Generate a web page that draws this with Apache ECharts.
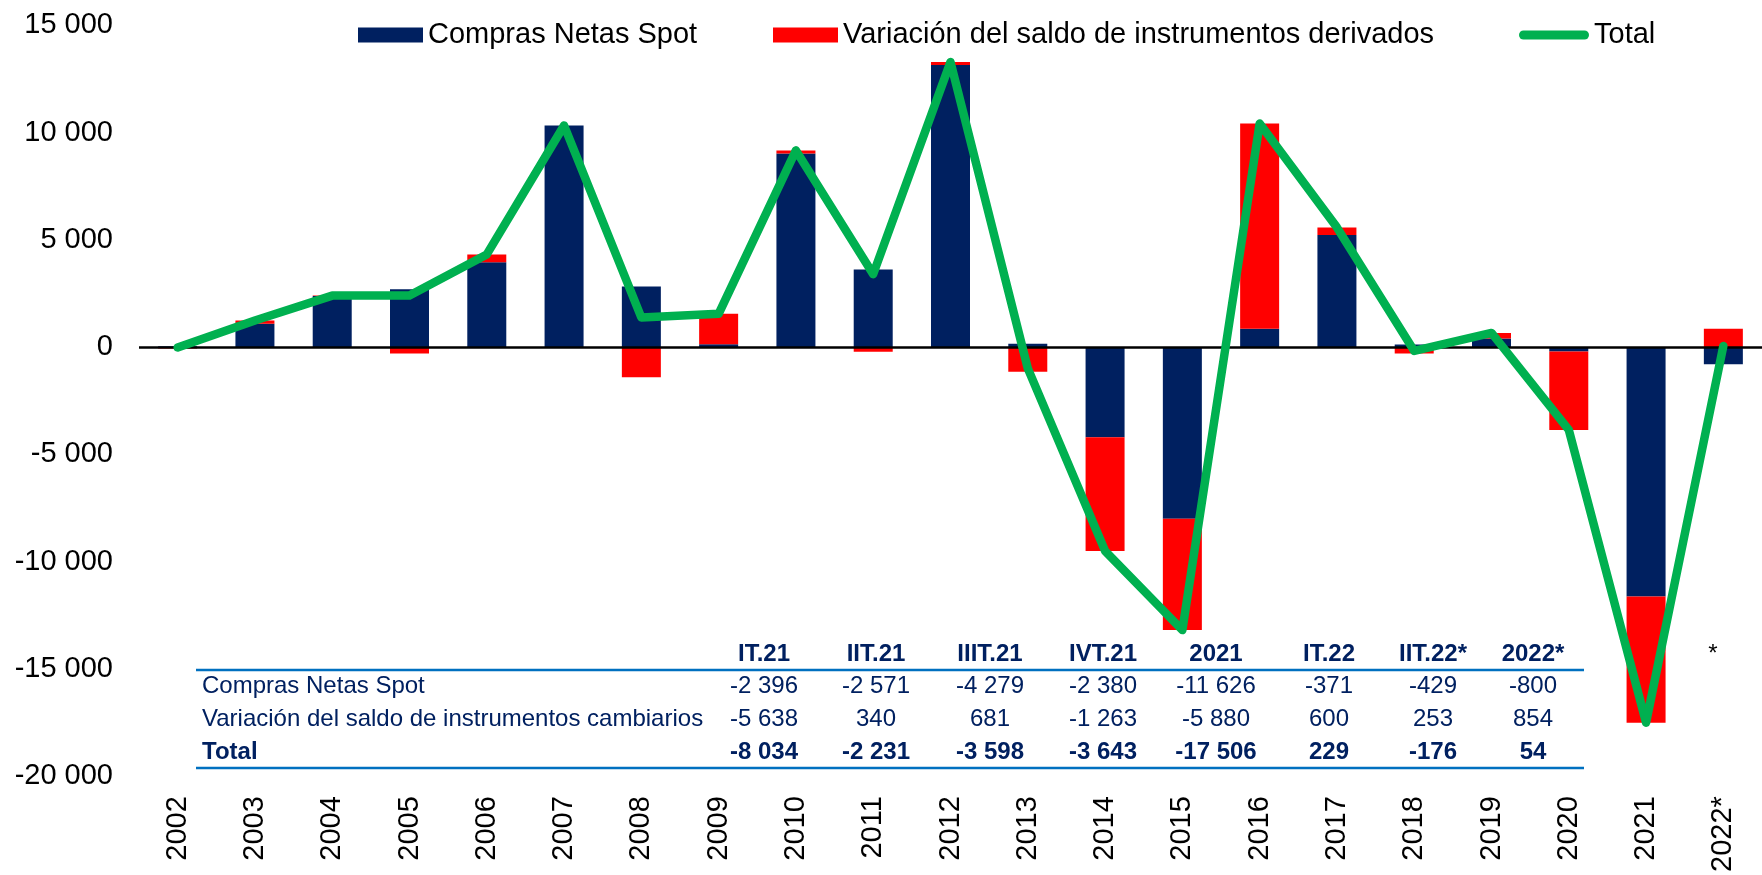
<!DOCTYPE html>
<html>
<head>
<meta charset="utf-8">
<title>Compras netas y variación de derivados</title>
<script src="https://cdn.jsdelivr.net/npm/echarts@6/dist/echarts.min.js"></script>
<style>
  html, body { margin: 0; padding: 0; background: #ffffff; }
  #chart { width: 1762px; height: 875px; }
</style>
</head>
<body>
<div id="chart"></div>
<script>
// Annual series (millones de US$)
const years = ['2002', '2003', '2004', '2005', '2006', '2007', '2008', '2009', '2010', '2011',
  '2012', '2013', '2014', '2015', '2016', '2017', '2018', '2019', '2020', '2021', '2022*'];
const spotPurchases = [40, 1090, 2380, 2700, 3950, 10330, 2830, 130, 9030, 3620,
  13150, 160, -4200, -8000, 860, 5230, 120, 400, -200, -11626, -800];
const derivativesChange = [-60, 150, 20, -300, 370, 0, -1400, 1420, 140, -220,
  140, -1150, -5300, -5190, 9560, 350, -300, 260, -3660, -5880, 854];
const totals = [-20, 1240, 2400, 2400, 4320, 10330, 1380, 1550, 9170, 3400,
  13290, -990, -9500, -13190, 10420, 5580, -180, 660, -3860, -17506, 54];

// Quarterly summary table
const tableColumns = ['IT.21', 'IIT.21', 'IIIT.21', 'IVT.21', '2021', 'IT.22', 'IIT.22*', '2022*'];
const tableRowLabels = ['Compras Netas Spot', 'Variación del saldo de instrumentos cambiarios', 'Total'];
const tableSpot = [-2396, -2571, -4279, -2380, -11626, -371, -429, -800];
const tableDeriv = [-5638, 340, 681, -1263, -5880, 600, 253, 854];
const tableTotal = [-8034, -2231, -3598, -3643, -17506, 229, -176, 54];

const seriesNames = ['Compras Netas Spot', 'Variación del saldo de instrumentos derivados', 'Total'];

const FONT = '"Liberation Sans", Arial, sans-serif';
const NAVY = '#002060';
const RED = '#FF0000';
const GREEN = '#00B050';
const RULE = '#0070C0';

function fmt(v) {
  const s = String(Math.round(Math.abs(v))).replace(/\B(?=(\d{3})+(?!\d))/g, ' ');
  return (v < 0 ? '-' : '') + s;
}

// Table layout
const colX = [764, 876, 990, 1103, 1216, 1329, 1433, 1533];
const rowY = [686, 719, 752];
const headerY = 654;
const labelX = 202;
const ruleX1 = 196, ruleX2 = 1584;

const graphics = [];
graphics.push({ type: 'line', silent: true, shape: { x1: ruleX1, y1: 670, x2: ruleX2, y2: 670 },
  style: { stroke: RULE, lineWidth: 2.5 } });
graphics.push({ type: 'line', silent: true, shape: { x1: ruleX1, y1: 768, x2: ruleX2, y2: 768 },
  style: { stroke: RULE, lineWidth: 2.5 } });

function addText(text, x, y, align, bold, color) {
  graphics.push({
    type: 'text', silent: true,
    style: {
      text: text, x: x, y: y,
      align: align, verticalAlign: 'middle',
      textAlign: align, textVerticalAlign: 'middle',
      font: (bold ? 'bold ' : '') + '24px ' + FONT,
      fill: color
    }
  });
}

tableColumns.forEach((c, i) => addText(c, colX[i], headerY, 'center', true, NAVY));
tableRowLabels.forEach((l, r) => addText(l, labelX, rowY[r], 'left', r === 2, NAVY));
[tableSpot, tableDeriv, tableTotal].forEach((row, r) => {
  row.forEach((v, i) => addText(fmt(v), colX[i], rowY[r], 'center', r === 2, NAVY));
});
addText('*', 1713, headerY, 'center', false, '#000000');

const chart = echarts.init(document.getElementById('chart'), null, { renderer: 'canvas' });

const legendText = { fontSize: 29, fontFamily: FONT, color: '#000000', lineHeight: 30 };

chart.setOption({
  animation: false,
  backgroundColor: '#ffffff',
  textStyle: { fontFamily: FONT },
  grid: { left: 139, top: 25.3, width: 1636, height: 754.2, containLabel: false },
  legend: [
    { left: 358, top: 20, padding: 0, itemWidth: 65, itemHeight: 15, icon: 'rect',
      data: [seriesNames[0]], textStyle: legendText, selectedMode: false },
    { left: 773, top: 20, padding: 0, itemWidth: 65, itemHeight: 15, icon: 'rect',
      data: [seriesNames[1]], textStyle: legendText, selectedMode: false },
    { left: 1519, top: 20, padding: 0, itemWidth: 70, itemHeight: 9,
      data: [{ name: seriesNames[2],
        icon: 'path://M4.5,0 L65.5,0 A4.5,4.5 0 0 1 65.5,9 L4.5,9 A4.5,4.5 0 0 1 4.5,0 Z',
        itemStyle: { color: GREEN, borderWidth: 0 } }],
      textStyle: legendText, selectedMode: false }
  ],
  xAxis: {
    type: 'category',
    data: years,
    boundaryGap: true,
    axisLine: { show: false, onZero: false },
    axisTick: { show: false },
    splitLine: { show: false },
    axisLabel: { interval: 0, rotate: 90, margin: 20, fontSize: 29, color: '#000000', fontFamily: FONT }
  },
  yAxis: {
    type: 'value',
    min: -20000, max: 15000, interval: 5000,
    axisLine: { show: false },
    axisTick: { show: false },
    splitLine: { show: false },
    axisLabel: { margin: 26, fontSize: 29, color: '#000000', fontFamily: FONT, formatter: fmt }
  },
  series: [
    {
      name: seriesNames[0], type: 'bar', stack: 'flows', barWidth: 39,
      itemStyle: { color: NAVY },
      data: spotPurchases,
      markLine: {
        silent: true, symbol: 'none', label: { show: false },
        lineStyle: { color: '#000000', width: 2.5, type: 'solid' },
        data: [{ yAxis: 0 }]
      }
    },
    {
      name: seriesNames[1], type: 'bar', stack: 'flows', barWidth: 39,
      itemStyle: { color: RED },
      data: derivativesChange
    },
    {
      name: seriesNames[2], type: 'line', z: 5,
      symbol: 'none', showSymbol: false,
      itemStyle: { color: GREEN },
      lineStyle: { color: GREEN, width: 8.5, cap: 'round', join: 'round' },
      data: totals
    }
  ],
  graphic: graphics
});
</script>
</body>
</html>
